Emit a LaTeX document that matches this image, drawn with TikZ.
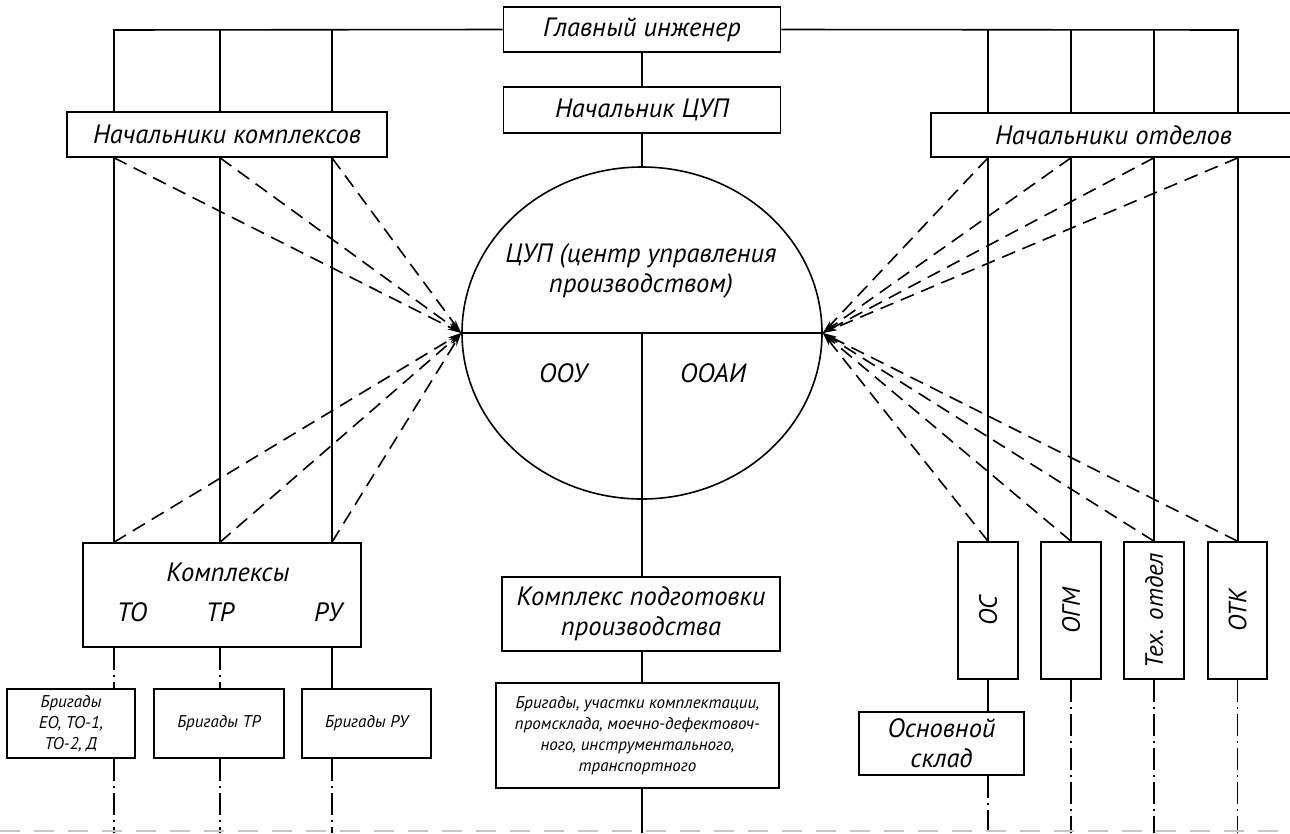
\documentclass[tikz,border=0pt]{standalone}
\usepackage{fontspec}
\setmainfont{PT Sans}
\usetikzlibrary{shapes.geometric,arrows.meta,backgrounds}

\begin{document}
\begin{tikzpicture}[x=1pt,y=-1pt,line width=1.6pt,
  box/.style={draw, fill=white, inner sep=0pt, align=center,
    font=\itshape\fontsize{26.5}{30}\selectfont},
  lbl/.style={inner sep=0pt, align=center, font=\itshape\fontsize{26.5}{30}\selectfont},
  small/.style={font=\itshape\fontsize{17}{21}\selectfont},
  vert/.style={font=\itshape\fontsize{25}{30}\selectfont},
  link/.style={dash pattern=on 14pt off 8pt, -{Stealth[length=14pt,width=6pt]}},
  axis/.style={dash pattern=on 22pt off 5pt on 2pt off 5pt},
]
\useasboundingbox (0,0) rectangle (1290,833);

% ---- boxes ----
\node[box, minimum width=277pt, minimum height=45pt] (gi)   at (642,29.5) {Главный инженер};
\node[box, minimum width=277pt, minimum height=46pt] (ncup) at (642,110)  {Начальник ЦУП};
\node[box, minimum width=320pt, minimum height=45pt] (nk)   at (227,134.5)  {Начальники комплексов};
\node[box, minimum width=365pt, minimum height=44pt] (no)   at (1113.5,135) {Начальники отделов};

\node[draw, ellipse, fill=white, minimum width=360pt, minimum height=332pt, inner sep=0pt] (cup) at (642,333) {};
\node[lbl] (cuptxt) at (641,271) {ЦУП (центр управления\\производством)};
\node[lbl] (oou)  at (563,373) {ООУ};
\node[lbl] (ooai) at (713,373) {ООАИ};

\node[box, minimum width=278pt, minimum height=104pt] (kompl) at (222,595) {};
\node[lbl] (komplt) at (228,572) {Комплексы};
\node[lbl] (tTO) at (132,612) {ТО};
\node[lbl] (tTR) at (220,612) {ТР};
\node[lbl] (tRU) at (328,612) {РУ};

\node[box, small, minimum width=128pt, minimum height=69pt] (br1) at (71,723.5)  {Бригады\\ЕО, ТО-1,\\ТО-2, Д};
\node[box, small, minimum width=130pt, minimum height=69pt] (br2) at (219,723.5) {Бригады ТР};
\node[box, small, minimum width=129pt, minimum height=69pt] (br3) at (366.5,723.5) {Бригады РУ};

\node[box, minimum width=278pt, minimum height=74pt] (kpp) at (641,614) {Комплекс подготовки\\производства};
\node[box, small, minimum width=283pt, minimum height=105pt] (brc) at (637.5,735.5)
  {Бригады, участки комплектации,\\промсклада, моечно-дефектовоч-\\ного, инструментального,\\транспортного};

\node[box, vert, minimum width=60pt, minimum height=137pt] (os)  at (988,610.5)    {\rotatebox{90}{ОС}};
\node[box, vert, minimum width=60pt, minimum height=137pt] (ogm) at (1071,610.5)   {\rotatebox{90}{ОГМ}};
\node[box, vert, minimum width=60pt, minimum height=137pt] (tex) at (1154,610.5)   {\rotatebox{90}{Тех. отдел}};
\node[box, vert, minimum width=59pt, minimum height=137pt] (otk) at (1237.5,610.5) {\rotatebox{90}{ОТК}};
\node[box, minimum width=165pt, minimum height=63pt] (sklad) at (941.5,743.5) {Основной\\склад};

% ---- bus points ----
\coordinate (l1) at (114,30);
\coordinate (l2) at (220,30);
\coordinate (l3) at (332,30);
\coordinate (r1) at (988,30);
\coordinate (r2) at (1071,30);
\coordinate (r3) at (1154,30);
\coordinate (r4) at (1238,30);
\coordinate (bot) at (0,833);

\begin{scope}[on background layer]
\begin{scope}[line width=1.6pt]
  % top bus and verticals
  \draw (gi.west) -- (l1) -- (l1 |- kompl.north);
  \draw (l2) -- (l2 |- kompl.north);
  \draw (l3) -- (l3 |- kompl.north);
  \draw (gi.east) -- (r4) -- (r4 |- otk.north);
  \draw (r1) -- (r1 |- os.north);
  \draw (r2) -- (r2 |- ogm.north);
  \draw (r3) -- (r3 |- tex.north);
  % central axis outside the centre
  \draw (gi.south) -- (ncup.north);
  \draw (ncup.south) -- (cup.north);
  \draw (cup.south) -- (cup.south |- kpp.north);
  \draw (cup.south |- kpp.south) -- (cup.south |- brc.north);
  \draw (cup.south |- brc.south) -- (cup.south |- bot);
  % left branch below the complexes
  \draw[axis] (l1 |- kompl.south) -- (l1 |- br1.north);
  \draw[axis] (l2 |- kompl.south) -- (l2 |- br2.north);
  \draw (l3 |- kompl.south) -- (l3 |- br3.north);
  \draw[axis] (l1 |- br1.south) -- (l1 |- bot);
  \draw[axis] (l2 |- br2.south) -- (l2 |- bot);
  \draw[axis] (l3 |- br3.south) -- (l3 |- bot);
  % right branch below the departments
  \draw (os.south) -- (os.south |- sklad.north);
  \draw[axis] (os.south |- sklad.south) -- (os.south |- bot);
  \draw[axis] (ogm.south) -- (ogm.south |- bot);
  \draw[axis] (tex.south) -- (tex.south |- bot);
  \draw[axis] (otk.south) -- (otk.south |- bot);
  % faint edge line
  \draw[gray!45, dash pattern=on 20pt off 14pt] (0,831) -- (1290,831);
\end{scope}
\end{scope}

% divisions of the centre
\draw (cup.west) -- (cup.east);
\draw (cup.center) -- (cup.south);

% information links to the centre
\foreach \p in {l1,l2,l3} {
  \draw[link] (\p |- nk.south) -- (cup.west);
  \draw[link] (\p |- kompl.north) -- (cup.west);
}
\draw[link] (r1 |- no.south) -- (cup.east);
\draw[link] (r2 |- no.south) -- (cup.east);
\draw[link] (r3 |- no.south) -- (cup.east);
\draw[link] (r4 |- no.south) -- (cup.east);
\draw[link] (os.north) -- (cup.east);
\draw[link] (ogm.north) -- (cup.east);
\draw[link] (tex.north) -- (cup.east);
\draw[link] (otk.north) -- (cup.east);
\end{tikzpicture}
\end{document}
